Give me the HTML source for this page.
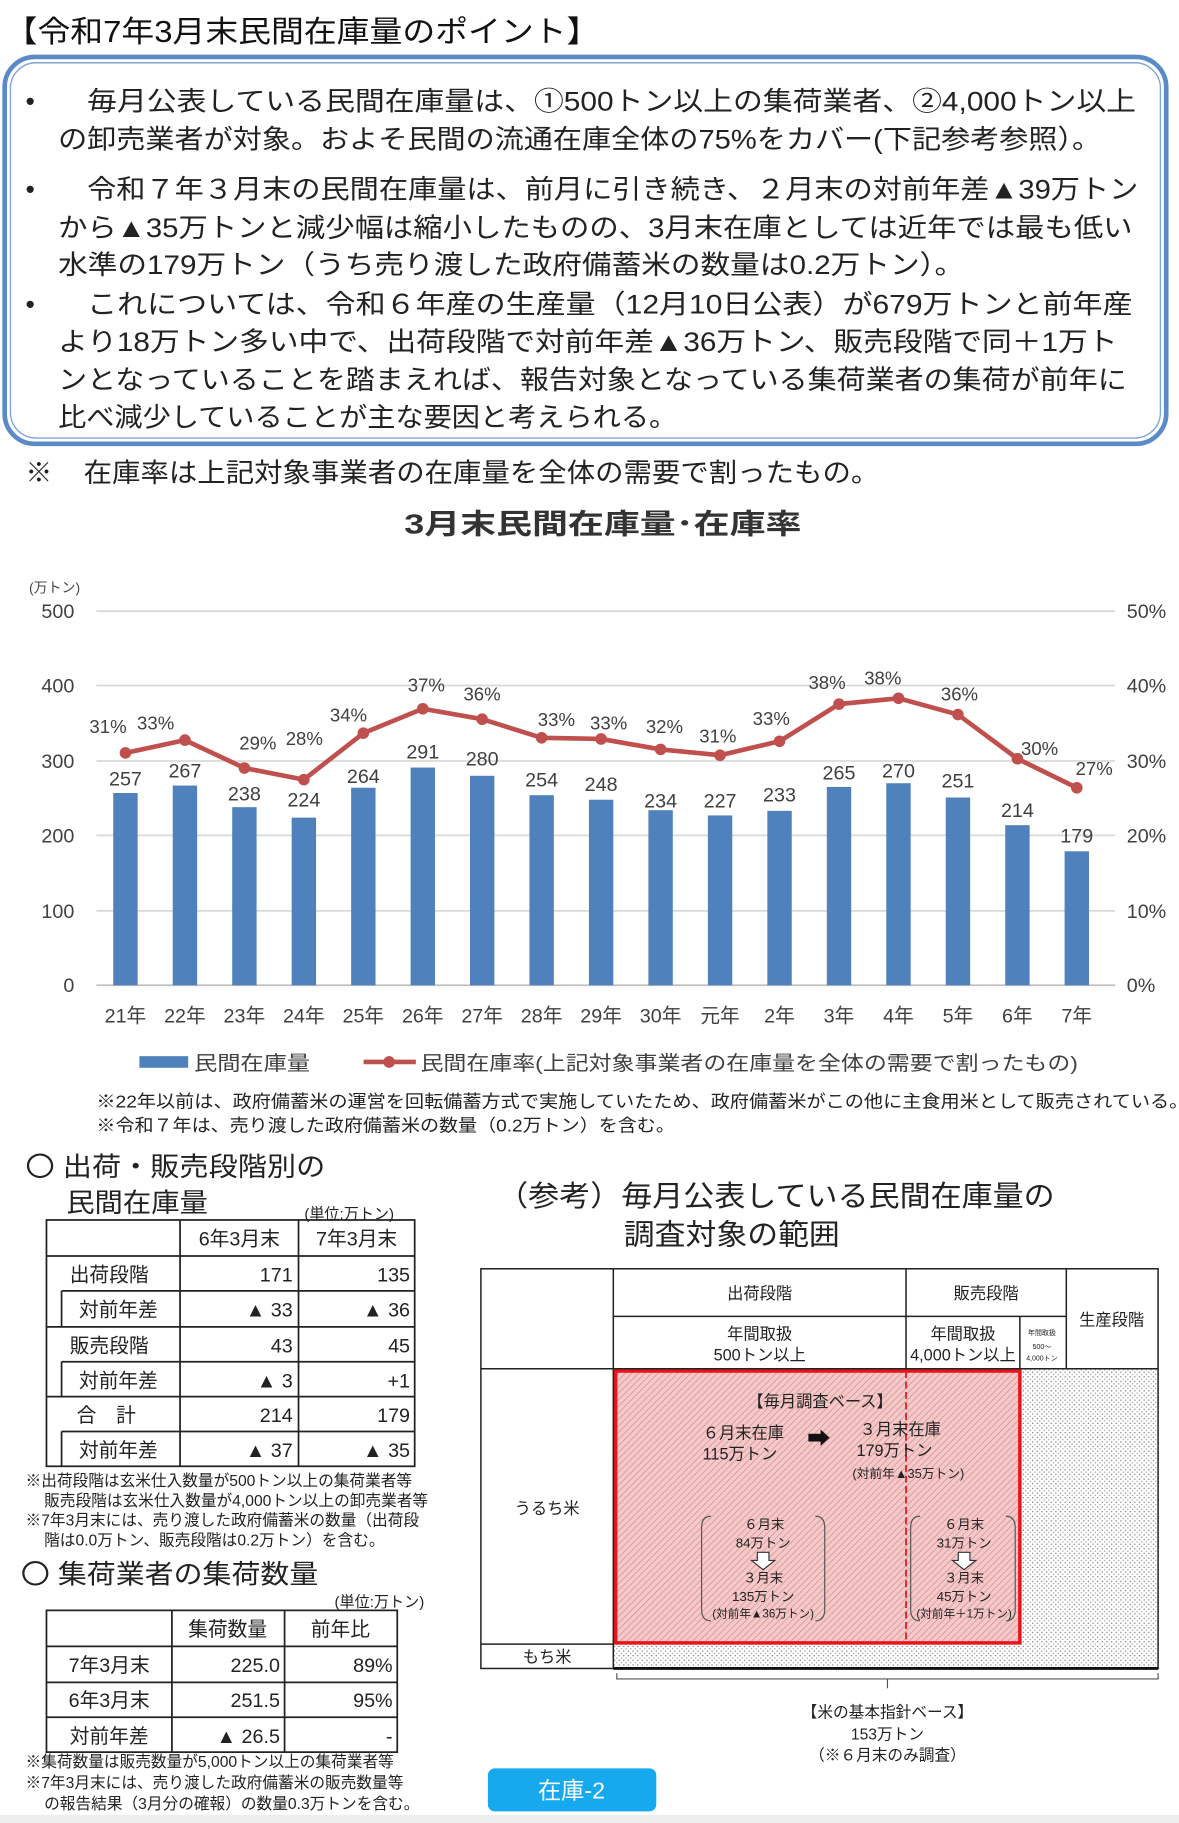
<!DOCTYPE html>
<html><head><meta charset="utf-8"><style>
html,body{margin:0;padding:0;background:#fff;}
svg{display:block;}
text{font-family:"Liberation Sans","Noto Sans CJK JP",sans-serif;}
</style></head><body>
<svg width="1179" height="1823" viewBox="0 0 1015 1569" preserveAspectRatio="none" xmlns="http://www.w3.org/2000/svg">
<defs>
<pattern id="hatch" width="4" height="4" patternUnits="userSpaceOnUse" patternTransform="rotate(45)">
<rect width="4" height="4" fill="#f4c9c9"/><line x1="0" y1="0" x2="0" y2="4" stroke="#d98a8a" stroke-width="1.2"/></pattern>
<pattern id="dots" width="4" height="4" patternUnits="userSpaceOnUse">
<rect width="4" height="4" fill="#fff"/><circle cx="1" cy="1" r="0.6" fill="#777"/><circle cx="3" cy="3" r="0.6" fill="#999"/></pattern>
</defs>
<rect width="1015" height="1569" fill="#fff"/>
<rect y="1562" width="1015" height="7" fill="#eee"/>
<!-- header -->
<text x="4" y="36" font-size="26" fill="#111" textLength="512" lengthAdjust="spacingAndGlyphs">【令和7年3月末民間在庫量のポイント】</text>
<rect x="4" y="49" width="1000" height="333" rx="26" fill="none" stroke="#5b8bc6" stroke-width="4"/>
<rect x="9" y="54" width="990" height="323" rx="22" fill="none" stroke="#7fa6d6" stroke-width="1.2"/>
<g font-size="23" fill="#222" lengthAdjust="spacingAndGlyphs">
<text x="22" y="95">•</text><text x="75" y="95" textLength="903" lengthAdjust="spacingAndGlyphs">毎月公表している民間在庫量は、①500トン以上の集荷業者、②4,000トン以上</text>
<text x="50" y="128" textLength="898" lengthAdjust="spacingAndGlyphs">の卸売業者が対象。およそ民間の流通在庫全体の75%をカバー(下記参考参照）。</text>
<text x="22" y="171">•</text><text x="75" y="171" textLength="905" lengthAdjust="spacingAndGlyphs">令和７年３月末の民間在庫量は、前月に引き続き、２月末の対前年差▲39万トン</text>
<text x="50" y="204" textLength="925" lengthAdjust="spacingAndGlyphs">から▲35万トンと減少幅は縮小したものの、3月末在庫としては近年では最も低い</text>
<text x="50" y="236" textLength="780" lengthAdjust="spacingAndGlyphs">水準の179万トン（うち売り渡した政府備蓄米の数量は0.2万トン）。</text>
<text x="22" y="270">•</text><text x="75" y="270" textLength="900" lengthAdjust="spacingAndGlyphs">これについては、令和６年産の生産量（12月10日公表）が679万トンと前年産</text>
<text x="50" y="302" textLength="912" lengthAdjust="spacingAndGlyphs">より18万トン多い中で、出荷段階で対前年差▲36万トン、販売段階で同＋1万ト</text>
<text x="50" y="335" textLength="920" lengthAdjust="spacingAndGlyphs">ンとなっていることを踏まえれば、報告対象となっている集荷業者の集荷が前年に</text>
<text x="50" y="367" textLength="533" lengthAdjust="spacingAndGlyphs">比べ減少していることが主な要因と考えられる。</text>
<text x="22" y="415">※</text><text x="72" y="415" textLength="685" lengthAdjust="spacingAndGlyphs">在庫率は上記対象事業者の在庫量を全体の需要で割ったもの。</text>
</g>
<text x="348" y="459" font-size="24" font-weight="bold" fill="#333" textLength="342" lengthAdjust="spacingAndGlyphs">3月末民間在庫量･在庫率</text>
<!-- chart -->
<text x="25" y="510" font-size="12" fill="#444">(万トン)</text>
<g stroke="#d9d9d9" stroke-width="1.5">
<line x1="83" y1="526" x2="960" y2="526"/><line x1="83" y1="590" x2="960" y2="590"/><line x1="83" y1="655" x2="960" y2="655"/><line x1="83" y1="719" x2="960" y2="719"/><line x1="83" y1="784" x2="960" y2="784"/>
</g>
<line x1="83" y1="848" x2="960" y2="848" stroke="#bfbfbf" stroke-width="1.5"/>
<g font-size="17" fill="#404040" text-anchor="end">
<text x="64" y="532">500</text><text x="64" y="596">400</text><text x="64" y="661">300</text><text x="64" y="725">200</text><text x="64" y="790">100</text><text x="64" y="854">0</text>
</g>
<g font-size="17" fill="#404040">
<text x="970" y="532">50%</text><text x="970" y="596">40%</text><text x="970" y="661">30%</text><text x="970" y="725">20%</text><text x="970" y="790">10%</text><text x="970" y="854">0%</text>
</g>
<g fill="#4f81bd">
<rect x="97.5" y="682.5" width="21" height="165.5"/><rect x="148.7" y="676.1" width="21" height="171.9"/><rect x="199.9" y="694.7" width="21" height="153.3"/><rect x="251.1" y="703.7" width="21" height="144.3"/><rect x="302.3" y="678" width="21" height="170"/><rect x="353.5" y="660.6" width="21" height="187.4"/><rect x="404.6" y="667.7" width="21" height="180.3"/><rect x="455.8" y="684.4" width="21" height="163.6"/><rect x="507" y="688.3" width="21" height="159.7"/><rect x="558.2" y="697.3" width="21" height="150.7"/><rect x="609.4" y="701.8" width="21" height="146.2"/><rect x="660.6" y="697.9" width="21" height="150.1"/><rect x="711.8" y="677.3" width="21" height="170.7"/><rect x="763" y="674.1" width="21" height="173.9"/><rect x="814.2" y="686.4" width="21" height="161.6"/><rect x="865.4" y="710.2" width="21" height="137.8"/><rect x="916.5" y="732.7" width="21" height="115.3"/>
</g>
<g font-size="17" fill="#404040" text-anchor="middle">
<text x="108" y="676">257</text><text x="159.2" y="669">267</text><text x="210.4" y="689">238</text><text x="261.6" y="694">224</text><text x="312.8" y="674">264</text><text x="364" y="653">291</text><text x="415.1" y="659">280</text><text x="466.3" y="677">254</text><text x="517.5" y="681">248</text><text x="568.7" y="695">234</text><text x="619.9" y="695">227</text><text x="671.1" y="690">233</text><text x="722.3" y="671">265</text><text x="773.5" y="669">270</text><text x="824.7" y="678">251</text><text x="875.9" y="703">214</text><text x="927" y="725">179</text>
</g>
<polyline fill="none" stroke="#c0504d" stroke-width="4" stroke-linejoin="round" points="108,648 159.2,637 210.4,661 261.6,671 312.8,631 364,610 415.1,619 466.3,635 517.5,636 568.7,645 619.9,650 671.1,638 722.3,606 773.5,601 824.7,615 875.9,653 927,678"/>
<g fill="#c0504d">
<circle cx="108" cy="648" r="5"/><circle cx="159.2" cy="637" r="5"/><circle cx="210.4" cy="661" r="5"/><circle cx="261.6" cy="671" r="5"/><circle cx="312.8" cy="631" r="5"/><circle cx="364" cy="610" r="5"/><circle cx="415.1" cy="619" r="5"/><circle cx="466.3" cy="635" r="5"/><circle cx="517.5" cy="636" r="5"/><circle cx="568.7" cy="645" r="5"/><circle cx="619.9" cy="650" r="5"/><circle cx="671.1" cy="638" r="5"/><circle cx="722.3" cy="606" r="5"/><circle cx="773.5" cy="601" r="5"/><circle cx="824.7" cy="615" r="5"/><circle cx="875.9" cy="653" r="5"/><circle cx="927" cy="678" r="5"/>
</g>
<g font-size="16" fill="#404040" text-anchor="middle">
<text x="93" y="631">31%</text><text x="134" y="628">33%</text><text x="222" y="645">29%</text><text x="262" y="641">28%</text><text x="300" y="621">34%</text><text x="367" y="595">37%</text><text x="415" y="603">36%</text><text x="479" y="625">33%</text><text x="524" y="628">33%</text><text x="572" y="631">32%</text><text x="618" y="639">31%</text><text x="664" y="624">33%</text><text x="712" y="593">38%</text><text x="760" y="589">38%</text><text x="826" y="603">36%</text><text x="895" y="650">30%</text><text x="942" y="667">27%</text>
</g>
<g font-size="17" fill="#404040" text-anchor="middle">
<text x="108" y="880">21年</text><text x="159.2" y="880">22年</text><text x="210.4" y="880">23年</text><text x="261.6" y="880">24年</text><text x="312.8" y="880">25年</text><text x="364" y="880">26年</text><text x="415.1" y="880">27年</text><text x="466.3" y="880">28年</text><text x="517.5" y="880">29年</text><text x="568.7" y="880">30年</text><text x="619.9" y="880">元年</text><text x="671.1" y="880">2年</text><text x="722.3" y="880">3年</text><text x="773.5" y="880">4年</text><text x="824.7" y="880">5年</text><text x="875.9" y="880">6年</text><text x="927" y="880">7年</text>
</g>
<rect x="120" y="909" width="42" height="10" fill="#4f81bd"/>
<text x="167" y="921" font-size="17" fill="#404040" textLength="100" lengthAdjust="spacingAndGlyphs">民間在庫量</text>
<line x1="313" y1="914" x2="358" y2="914" stroke="#c0504d" stroke-width="4"/><circle cx="335" cy="914" r="5" fill="#c0504d"/>
<text x="362" y="921" font-size="17" fill="#404040" textLength="566" lengthAdjust="spacingAndGlyphs">民間在庫率(上記対象事業者の在庫量を全体の需要で割ったもの)</text>
<g font-size="15" fill="#222">
<text x="83" y="953" textLength="940" lengthAdjust="spacingAndGlyphs">※22年以前は、政府備蓄米の運営を回転備蓄方式で実施していたため、政府備蓄米がこの他に主食用米として販売されている。</text>
<text x="83" y="974" textLength="498" lengthAdjust="spacingAndGlyphs">※令和７年は、売り渡した政府備蓄米の数量（0.2万トン）を含む。</text>
</g>
<!-- left section -->
<g fill="#222">
<text x="22" y="1012" font-size="23" textLength="258" lengthAdjust="spacingAndGlyphs">〇 出荷・販売段階別の</text>
<text x="57" y="1043" font-size="23" textLength="122" lengthAdjust="spacingAndGlyphs">民間在庫量</text>
<text x="262" y="1049" font-size="13">(単位:万トン)</text>
</g>
<g stroke="#222" stroke-width="1.5" fill="none">
<rect x="40" y="1050" width="317" height="212"/>
<line x1="155" y1="1050" x2="155" y2="1262"/><line x1="257" y1="1050" x2="257" y2="1262"/>
<line x1="40" y1="1081" x2="357" y2="1081"/>
<line x1="53" y1="1111" x2="357" y2="1111"/><line x1="40" y1="1142" x2="357" y2="1142"/>
<line x1="53" y1="1172" x2="357" y2="1172"/><line x1="40" y1="1202" x2="357" y2="1202"/>
<line x1="53" y1="1232" x2="357" y2="1232"/>
<line x1="53" y1="1111" x2="53" y2="1142"/><line x1="53" y1="1172" x2="53" y2="1202"/><line x1="53" y1="1232" x2="53" y2="1262"/>
</g>
<g font-size="17" fill="#222">
<text x="206" y="1072" text-anchor="middle">6年3月末</text><text x="307" y="1072" text-anchor="middle">7年3月末</text>
<text x="60" y="1103">出荷段階</text><text x="68" y="1133">対前年差</text><text x="60" y="1164">販売段階</text><text x="68" y="1194">対前年差</text><text x="66" y="1224">合　計</text><text x="68" y="1254">対前年差</text>
<g text-anchor="end"><text x="252" y="1103">171</text><text x="353" y="1103">135</text><text x="252" y="1133">▲ 33</text><text x="353" y="1133">▲ 36</text><text x="252" y="1164">43</text><text x="353" y="1164">45</text><text x="252" y="1194">▲ 3</text><text x="353" y="1194">+1</text><text x="252" y="1224">214</text><text x="353" y="1224">179</text><text x="252" y="1254">▲ 37</text><text x="353" y="1254">▲ 35</text></g>
</g>
<g font-size="13.5" fill="#222">
<text x="22" y="1279">※出荷段階は玄米仕入数量が500トン以上の集荷業者等</text>
<text x="38" y="1296">販売段階は玄米仕入数量が4,000トン以上の卸売業者等</text>
<text x="22" y="1313">※7年3月末には、売り渡した政府備蓄米の数量（出荷段</text>
<text x="38" y="1330">階は0.0万トン、販売段階は0.2万トン）を含む。</text>
</g>
<text x="18" y="1363" font-size="23" fill="#222" textLength="256" lengthAdjust="spacingAndGlyphs">〇 集荷業者の集荷数量</text>
<text x="288" y="1383" font-size="13" fill="#222">(単位:万トン)</text>
<g stroke="#222" stroke-width="1.5" fill="none">
<rect x="40" y="1386" width="302" height="122"/>
<line x1="148" y1="1386" x2="148" y2="1508"/><line x1="245" y1="1386" x2="245" y2="1508"/>
<line x1="40" y1="1417" x2="342" y2="1417"/><line x1="40" y1="1448" x2="342" y2="1448"/><line x1="40" y1="1478" x2="342" y2="1478"/>
</g>
<g font-size="17" fill="#222">
<text x="196" y="1408" text-anchor="middle">集荷数量</text><text x="293" y="1408" text-anchor="middle">前年比</text>
<text x="94" y="1439" text-anchor="middle">7年3月末</text><text x="94" y="1469" text-anchor="middle">6年3月末</text><text x="94" y="1500" text-anchor="middle">対前年差</text>
<g text-anchor="end"><text x="241" y="1439">225.0</text><text x="338" y="1439">89%</text><text x="241" y="1469">251.5</text><text x="338" y="1469">95%</text><text x="241" y="1500">▲ 26.5</text><text x="338" y="1500">-</text></g>
</g>
<g font-size="13.5" fill="#222">
<text x="22" y="1521">※集荷数量は販売数量が5,000トン以上の集荷業者等</text>
<text x="22" y="1539">※7年3月末には、売り渡した政府備蓄米の販売数量等</text>
<text x="38" y="1557">の報告結果（3月分の確報）の数量0.3万トンを含む。</text>
</g>
<rect x="420" y="1522" width="145" height="37" rx="6" fill="#16a9ee"/>
<text x="492" y="1548" font-size="20" fill="#fff" text-anchor="middle">在庫-2</text>
<!-- right section -->
<text x="428" y="1038" font-size="25" fill="#222" textLength="480" lengthAdjust="spacingAndGlyphs">（参考）毎月公表している民間在庫量の</text>
<text x="537" y="1071" font-size="25" fill="#222" textLength="186" lengthAdjust="spacingAndGlyphs">調査対象の範囲</text>
<rect x="528" y="1178" width="469" height="258" fill="url(#dots)"/>
<rect x="530" y="1180" width="348" height="234" fill="url(#hatch)" stroke="#e8141b" stroke-width="3"/>
<line x1="780" y1="1180" x2="780" y2="1414" stroke="#e8141b" stroke-width="1.5" stroke-dasharray="6,3"/>
<g stroke="#222" stroke-width="1.3" fill="none">
<rect x="414" y="1092" width="583" height="344"/>
<line x1="528" y1="1092" x2="528" y2="1436"/>
<line x1="528" y1="1133" x2="918" y2="1133"/>
<line x1="780" y1="1092" x2="780" y2="1178"/>
<line x1="918" y1="1092" x2="918" y2="1178"/>
<line x1="878" y1="1133" x2="878" y2="1178"/>
<line x1="414" y1="1178" x2="997" y2="1178"/>
<line x1="414" y1="1415" x2="528" y2="1415"/>
</g>
<line x1="528" y1="1436" x2="997" y2="1436" stroke="#111" stroke-width="2.5"/>
<g font-size="14" fill="#222" text-anchor="middle">
<text x="654" y="1118">出荷段階</text><text x="849" y="1118">販売段階</text><text x="957" y="1141">生産段階</text>
<text x="654" y="1153">年間取扱</text><text x="654" y="1171">500トン以上</text>
<text x="829" y="1153">年間取扱</text><text x="829" y="1171">4,000トン以上</text>
<text x="471" y="1303">うるち米</text><text x="471" y="1431">もち米</text>
<text x="706" y="1211">【毎月調査ベース】</text>
<text x="640" y="1238">６月末在庫</text><text x="637" y="1256">115万トン</text>
<text x="775" y="1235">３月末在庫</text><text x="770" y="1253">179万トン</text>
<text x="782" y="1272" font-size="11">(対前年▲35万トン)</text>
</g>
<text x="705" y="1245" font-size="20" fill="#111" text-anchor="middle">➡</text>
<g font-size="6" fill="#222" text-anchor="middle"><text x="897" y="1149">年間取扱</text><text x="897" y="1161">500～</text><text x="897" y="1171">4,000トン</text></g>
<g font-size="11.5" fill="#222" text-anchor="middle">
<text x="658" y="1316">６月末</text><text x="657" y="1332">84万トン</text><text x="657" y="1362">３月末</text><text x="657" y="1378">135万トン</text><text x="657" y="1392" font-size="10">(対前年▲36万トン)</text>
<text x="830" y="1316">６月末</text><text x="830" y="1332">31万トン</text><text x="830" y="1362">３月末</text><text x="830" y="1378">45万トン</text><text x="830" y="1392" font-size="10">(対前年＋1万トン)</text>
</g>
<g fill="#fff" stroke="#333" stroke-width="1">
<path d="M652,1336 h10 v7 h5 l-10,8 l-10,-8 h5z"/><path d="M825,1336 h10 v7 h5 l-10,8 l-10,-8 h5z"/>
</g>
<g fill="none" stroke="#555" stroke-width="1">
<path d="M612,1305 q-8,0 -8,10 v70 q0,10 8,10"/><path d="M702,1305 q8,0 8,10 v70 q0,10 -8,10"/>
<path d="M792,1305 q-8,0 -8,10 v70 q0,10 8,10"/><path d="M866,1305 q8,0 8,10 v70 q0,10 -8,10"/>
<path d="M531,1440 v5 h466 v-5 M764,1445 v8"/>
</g>
<g font-size="13.5" fill="#222" text-anchor="middle">
<text x="764" y="1478">【米の基本指針ベース】</text><text x="764" y="1497">153万トン</text><text x="764" y="1515">（※６月末のみ調査）</text>
</g>
</svg>
</body></html>
